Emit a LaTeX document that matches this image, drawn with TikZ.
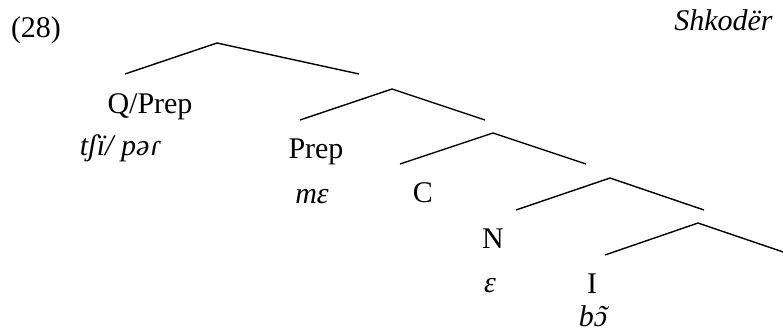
\documentclass[tikz,border=0pt]{standalone}
\usepackage{fontspec}
\setmainfont{Liberation Serif}
% open o with a tilde set over it by hand
\newcommand{\otilde}{\ooalign{ɔ\cr\hidewidth\kern0.12em ˜\hidewidth\cr}}
\begin{document}
\begin{tikzpicture}[x=0.5pt,y=-0.5pt,
    branch/.style={line width=0.7pt},
    cat/.style={anchor=base,inner sep=0pt,font=\fontsize{15}{18}\selectfont},
    form/.style={cat,font=\fontsize{15}{18}\selectfont\itshape}]
  \clip (0,0) rectangle (783,333);
  % Draw the example number and the dialect name.
  \node[cat] (num) at (36,37) {(28)};
  \node[form,anchor=base east] (dialect) at (773,30) {Shkodër};
  % Draw the branching nodes, each with its left and right branch.
  \foreach \i/\mx/\my/\lx/\ly/\rx/\ry in {1/217/43/125/74/359/74,
      2/392/89/300/120/485/120, 3/493/133/400/164/586/164,
      4/610/178/516/210/704/210, 5/698/223/605/255/792/255}{
    \coordinate (m\i) at (\mx,\my);
    \coordinate (l\i) at (\lx,\ly);
    \coordinate (r\i) at (\rx,\ry);
    \draw[branch] (l\i) -- (m\i) -- (r\i);
  }
  % Draw the heads and the forms below them.
  \node[cat] (qprep) at (150,113) {Q/Prep};
  \node[form] (tshi) at (120,155) {tʃï/ pəɾ};
  \node[cat] (prep) at (316,158) {Prep};
  \node[form] (me) at (312,203) {mɛ};
  \node[cat] (c) at (423,202) {C};
  \node[cat] (n) at (493,248) {N};
  \node[form] (e) at (490,292) {ɛ};
  \node[cat] (infl) at (592,293) {I};
  \node[form] (bo) at (593,326) {b\otilde};
\end{tikzpicture}
\end{document}
